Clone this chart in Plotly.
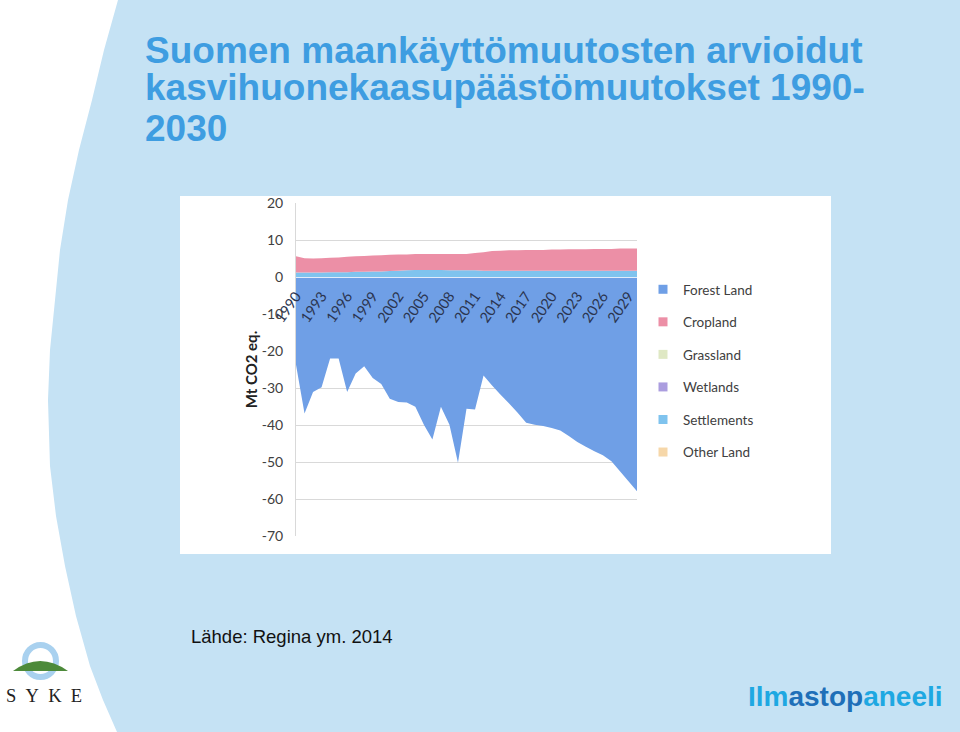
import plotly.graph_objects as go

# ---------------- data ----------------
years = list(range(1990, 2031))
forest_land = [-23.7, -36.9, -31.1, -29.8, -22.0, -22.0, -31.1, -26.1, -24.1, -27.3,
               -28.9, -32.9, -33.8, -33.9, -35.1, -39.9, -43.9, -35.1, -39.9, -50.2,
               -35.6, -35.8, -26.6, -29.3, -31.8, -34.2, -36.7, -39.4, -39.9, -40.3,
               -40.8, -41.5, -43.0, -44.6, -45.9, -47.1, -48.2, -49.8, -52.5, -55.2,
               -57.9]
settlements = [1.2, 1.2, 1.2, 1.2, 1.3, 1.3, 1.3, 1.4, 1.4, 1.5,
               1.5, 1.6, 1.7, 1.8, 1.9, 1.9, 1.9, 1.9, 1.8, 1.8,
               1.8, 1.8, 1.7, 1.7, 1.7, 1.7, 1.7, 1.7, 1.7, 1.7,
               1.7, 1.7, 1.7, 1.7, 1.7, 1.7, 1.7, 1.7, 1.7, 1.7,
               1.7]
cropland = [4.4, 3.9, 3.8, 3.9, 3.9, 4.0, 4.2, 4.2, 4.3, 4.3,
            4.4, 4.4, 4.4, 4.3, 4.3, 4.3, 4.3, 4.3, 4.4, 4.4,
            4.4, 4.7, 5.0, 5.3, 5.4, 5.5, 5.5, 5.6, 5.6, 5.6,
            5.7, 5.7, 5.8, 5.8, 5.8, 5.9, 5.9, 5.9, 6.0, 6.0,
            6.0]
series_names = ["Forest Land", "Cropland", "Grassland", "Wetlands", "Settlements", "Other Land"]
series_colors = ["#6f9fe6", "#ec8fa6", "#dfe8c4", "#ab9ddf", "#7fc3ee", "#f6d7a9"]
y_ticks = [20, 10, 0, -10, -20, -30, -40, -50, -60, -70]
y_tick_labels = ["20", "10", "0", "-10", "-20", "-30", "-40", "-50", "-60", "-70"]
y_range = [-70, 20]
x_range = [1990, 2030]

title_lines = ["Suomen maankäyttömuutosten arvioidut",
               "kasvihuonekaasupäästömuutokset 1990-",
               "2030"]
source_text = "Lähde: Regina ym. 2014"
y_title = "Mt CO2 eq."

# ---------------- layout helpers (pixel -> paper) ----------------
W, H = 960, 732
PL, PR, PT, PB = 296, 637, 203, 536


def px(x):
    return (x - PL) / (PR - PL)


def py(y):
    return (PB - y) / (PB - PT)


fig = go.Figure()

# forest land (own stack, below zero)
fig.add_trace(go.Scatter(x=years, y=forest_land, mode="none", fill="tozeroy",
                         fillcolor=series_colors[0], showlegend=False,
                         legendgroup="Forest Land", hoverinfo="skip"))
# positive stack: settlements then cropland
fig.add_trace(go.Scatter(x=years, y=settlements, mode="none", stackgroup="pos",
                         fillcolor=series_colors[4], showlegend=False,
                         legendgroup="Settlements", hoverinfo="skip"))
fig.add_trace(go.Scatter(x=years, y=cropland, mode="none", stackgroup="pos",
                         fillcolor=series_colors[1], showlegend=False,
                         legendgroup="Cropland", hoverinfo="skip"))

# legend entries
for i, (n, c) in enumerate(zip(series_names, series_colors)):
    fig.add_trace(go.Scatter(x=[None], y=[None], mode="markers", name=n,
                             legendgroup=n, legendrank=i + 1,
                             marker=dict(symbol="square", size=9, color=c)))

zero_pos = (0 - y_range[0]) / (y_range[1] - y_range[0])

shapes = []
# white chart area
shapes.append(dict(type="rect", xref="paper", yref="paper", layer="below",
                   x0=px(180), x1=px(831), y0=py(554), y1=py(196),
                   fillcolor="white", line=dict(width=0)))
# white left curve region
curve = [(118, 0), (104, 50), (92, 100), (79, 150), (68, 200), (60, 250), (55, 300),
         (50, 350), (48, 400), (50, 466), (56, 516), (65, 566), (76, 616), (90, 666),
         (103, 700), (117, 732)]
path = "M %.4f,%.4f " % (px(-5), py(-5))
for (cx, cy) in curve:
    path += "L %.4f,%.4f " % (px(cx), py(cy))
path += "L %.4f,%.4f Z" % (px(-5), py(740))
shapes.append(dict(type="path", xref="paper", yref="paper", layer="below",
                   path=path, fillcolor="white", line=dict(width=0)))
# SYKE logo ring
shapes.append(dict(type="circle", xref="paper", yref="paper", layer="below",
                   x0=px(25), x1=px(56), y0=py(677), y1=py(645),
                   fillcolor="rgba(0,0,0,0)", line=dict(color="#a9d1ef", width=6)))
# SYKE hill
hill = "M %.4f,%.4f Q %.4f,%.4f %.4f,%.4f Z" % (px(13), py(671), px(40), py(651),
                                                px(68), py(671))
shapes.append(dict(type="path", xref="paper", yref="paper", layer="below",
                   path=hill, fillcolor="#4d8a3a", line=dict(width=0)))

annotations = []
for line, yc in zip(title_lines, [50, 88, 128]):
    annotations.append(dict(text=line, xref="paper", yref="paper", x=px(143), y=py(yc),
                            xanchor="left", yanchor="middle", showarrow=False,
                            font=dict(family="Liberation Sans", size=37, color="#3e9de1",
                                      weight="bold")))
annotations.append(dict(text=source_text, xref="paper", yref="paper", x=px(189), y=py(636),
                        xanchor="left", yanchor="middle", showarrow=False,
                        font=dict(family="Liberation Sans", size=18.5, color="#111111")))
annotations.append(dict(text="S\u00a0\u00a0Y\u00a0\u00a0K\u00a0\u00a0E", xref="paper", yref="paper",
                        x=px(44), y=py(696), xanchor="center", yanchor="middle",
                        showarrow=False,
                        font=dict(family="Liberation Serif", size=18.5, color="#222222")))
annotations.append(dict(
    text='<span style="color:#1ea8e2">Ilm</span><span style="color:#1e6fb8">astop</span>'
         '<span style="color:#1ea8e2">aneeli</span>',
    xref="paper", yref="paper", x=px(845), y=py(696), xanchor="center", yanchor="middle",
    showarrow=False, font=dict(family="Liberation Sans", size=28, weight="bold")))

fig.update_layout(
    width=W, height=H,
    margin=dict(l=PL, r=W - PR, t=PT, b=H - PB, pad=0),
    paper_bgcolor="#c5e2f4",
    plot_bgcolor="white",
    shapes=shapes,
    annotations=annotations,
    showlegend=True,
    legend=dict(x=px(643), y=py(274), xanchor="left", yanchor="top",
                bgcolor="rgba(0,0,0,0)", traceorder="grouped", tracegroupgap=12,
                font=dict(family="Lato", size=13.5, color="#404040"),
                itemwidth=30),
    xaxis=dict(range=x_range, anchor="free", position=zero_pos, side="bottom",
               tickmode="linear", tick0=1990, dtick=3, tickangle=-55,
               showgrid=False, zeroline=False, showline=True, linecolor="rgba(255,255,255,0.8)",
               linewidth=1, ticks="", ticklen=0, layer="above traces", ticklabelstandoff=4,
               tickfont=dict(family="Lato", size=14.5, color="#2b3550")),
    yaxis=dict(range=y_range, tickmode="array", tickvals=y_ticks, ticktext=y_tick_labels,
               showgrid=True, gridcolor="#d9d9d9", gridwidth=1, zeroline=False,
               showline=True, linecolor="#d9d9d9", ticks="", ticklabelstandoff=9,
               tickfont=dict(family="Lato", size=14, color="#404040"),
               title=dict(text=y_title, standoff=0,
                          font=dict(family="Lato", size=15, color="#222222", weight="bold"))),
)

fig.write_html("out.html")
